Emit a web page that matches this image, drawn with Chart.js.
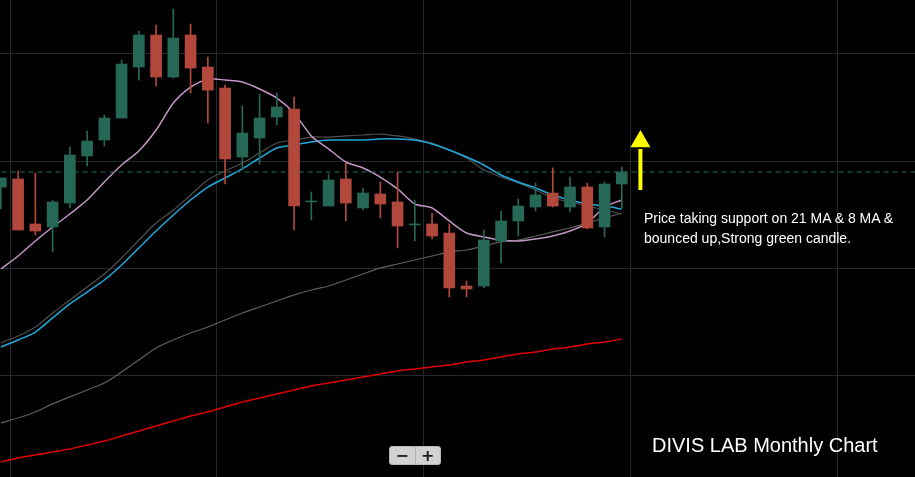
<!DOCTYPE html>
<html>
<head>
<meta charset="utf-8">
<script src="https://cdn.jsdelivr.net/npm/chart.js@4"></script>
<style>
  html, body { margin: 0; padding: 0; background: #000; }
  #wrap { position: relative; width: 915px; height: 477px; overflow: hidden; }
  .txt { position: absolute; color: #fff; font-family: "Liberation Sans", Arial, sans-serif; white-space: nowrap; }
  #note { left: 644px; top: 208px; font-size: 14px; line-height: 20px; }
  #title { left: 652px; top: 435px; font-size: 20px; line-height: 20px; }
  #zoom { position: absolute; left: 389px; top: 446px; width: 50px; height: 17px; background: #d2d2d2;
          border: 1px solid #b8b8b8; border-radius: 3px; display: flex; font-family: "DejaVu Sans", sans-serif;
          font-weight: bold; font-size: 16px; color: #1a1a1a; }
  #zoom span { flex: 1; text-align: center; line-height: 17px; }
  #zoom span:first-child { border-right: 1px solid #b0b0b0; }
</style>
</head>
<body>
<div id="wrap">
  <canvas id="grafica" width="915" height="477"></canvas>
  <div class="txt" id="note">Price taking support on 21 MA &amp; 8 MA &amp;<br>bounced up,Strong green candle.</div>
  <div class="txt" id="title">DIVIS LAB Monthly Chart</div>
  <div id="zoom"><span>&minus;</span><span>+</span></div>
</div>
<script>
// velas mensuales (open, high, low, close)
const opens  = [3758,3833,3414,3386,3609,4047,4195,4400,4874,5172,4781,5172,4874,4679,4037,4214,4409,4484,3619,3581,3833,3563,3693,3619,3405,3414,3330,2837,2837,3256,3442,3572,3702,3572,3758,3386,3786];
const highs  = [3842,3907,3888,3637,4130,4279,4428,4939,5209,5265,5414,5274,4967,4707,4512,4623,4632,4595,3712,3879,3981,3749,3805,3898,3637,3516,3414,2884,3358,3535,3647,3795,3935,3851,3795,3805,3944];
const lows   = [3554,3358,3312,3154,3563,3954,4140,4400,4753,4698,4772,4632,4353,3786,3916,3972,4335,3358,3451,3581,3442,3544,3470,3191,3256,3274,2735,2735,2819,3051,3302,3535,3572,3526,3368,3293,3563];
const closes = [3842,3358,3349,3619,4056,4186,4400,4902,5172,4781,5144,4865,4660,4019,4260,4400,4502,3581,3628,3823,3609,3702,3600,3395,3414,3302,2819,2809,3265,3442,3581,3684,3581,3758,3377,3786,3898];

// medias moviles
const ma8   = [2995,3116,3256,3386,3507,3637,3805,3963,4093,4288,4540,4688,4763,4753,4735,4670,4586,4447,4233,4112,3991,3935,3851,3740,3600,3563,3442,3330,3293,3265,3256,3274,3302,3349,3423,3572,3637];
const ma21  = [2270,2335,2409,2540,2670,2781,2893,3033,3191,3349,3498,3637,3758,3842,3926,4028,4121,4149,4177,4195,4195,4195,4205,4205,4195,4158,4102,4037,3963,3870,3805,3749,3684,3637,3600,3581,3553];
const ma20  = [2307,2372,2456,2586,2707,2828,2949,3098,3265,3423,3544,3684,3823,3907,3981,4074,4167,4195,4223,4223,4233,4242,4251,4233,4205,4167,4102,4028,3916,3851,3795,3730,3656,3619,3581,3544,3507];
const ma50  = [1563,1609,1665,1740,1805,1870,1935,2037,2149,2261,2335,2400,2456,2521,2586,2642,2698,2754,2800,2837,2893,2949,3005,3042,3079,3116,3154,3172,3209,3247,3265,3302,3340,3377,3423,3470,3516];
const ma200 = [1200,1237,1265,1293,1321,1358,1395,1442,1488,1535,1581,1628,1665,1712,1758,1795,1833,1870,1907,1935,1963,1991,2019,2047,2065,2084,2102,2130,2149,2177,2205,2223,2251,2270,2298,2316,2344];

// lineas de la cuadricula (sin etiquetas en el original)
const xGrid = [0.53, 12.53, 24.53, 36.53, 48.53];
const yGrid = [2000, 3000, 4000, 5000];

// flecha amarilla
const arrowX = 37.08;
const arrowShaft = [3730, 4112];
const arrowHead = 4181;

const verde = 'rgb(38,104,86)';
const rojo = 'rgb(178,72,60)';
const colores = closes.map((c, i) => c >= opens[i] ? verde : rojo);
const last = closes[closes.length - 1];

const serie = arr => arr.map((v, i) => ({ x: i, y: v }));
const linea = (arr, color, ancho, orden) => ({
    type: 'line',
    data: serie(arr),
    borderColor: color,
    borderWidth: ancho,
    pointRadius: 0,
    tension: 0.25,
    order: orden
});

const g = document.getElementById('grafica').getContext('2d');

const miGrafica = new Chart(g, {
    type: 'bar',
    data: {
        datasets: [
            {
                data: opens.map((o, i) => ({ x: i, y: [o, closes[i]] })),
                backgroundColor: colores,
                barThickness: 11,
                minBarLength: 1,
                grouped: false,
                order: 0
            },
            {
                data: highs.map((h, i) => ({ x: i, y: [lows[i], h] })),
                backgroundColor: colores,
                barThickness: 1,
                grouped: false,
                order: 0
            },
            {
                type: 'line',
                data: [{ x: -1, y: last }, { x: 60, y: last }],
                borderColor: 'rgb(38,110,90)',
                borderWidth: 1,
                borderDash: [5, 4],
                pointRadius: 0,
                order: 1
            },
            linea(ma8, 'rgb(196,150,200)', 1.5, 2),
            linea(ma21, 'rgb(30,170,220)', 1.5, 3),
            linea(ma20, 'rgb(80,80,80)', 1.2, 4),
            linea(ma50, 'rgb(95,95,95)', 1.2, 5),
            linea(ma200, 'rgb(225,0,0)', 1.5, 6),
            {
                type: 'line',
                data: arrowShaft.map(v => ({ x: arrowX, y: v })),
                borderColor: '#ffff00',
                borderWidth: 4,
                pointRadius: 0,
                order: 0
            },
            {
                type: 'line',
                data: [{ x: arrowX, y: arrowHead }],
                showLine: false,
                pointStyle: 'triangle',
                pointRadius: 11.5,
                pointBackgroundColor: '#ffff00',
                pointBorderColor: '#ffff00',
                pointBorderWidth: 0,
                order: 0
            }
        ]
    },
    options: {
        responsive: false,
        animation: false,
        layout: { padding: 0, autoPadding: false },
        plugins: { legend: { display: false }, tooltip: { enabled: false } },
        scales: {
            x: {
                type: 'linear',
                min: -0.05,
                max: 53.0,
                offset: false,
                afterBuildTicks: s => { s.ticks = xGrid.map(v => ({ value: v })); },
                ticks: { display: false },
                grid: { color: 'rgb(38,38,46)', drawTicks: false, offset: false },
                border: { display: false }
            },
            y: {
                min: 1060,
                max: 5498,
                afterBuildTicks: s => { s.ticks = yGrid.map(v => ({ value: v })); },
                ticks: { display: false },
                grid: { color: 'rgb(38,38,46)', drawTicks: false },
                border: { display: false }
            }
        }
    }
});
</script>
</body>
</html>
